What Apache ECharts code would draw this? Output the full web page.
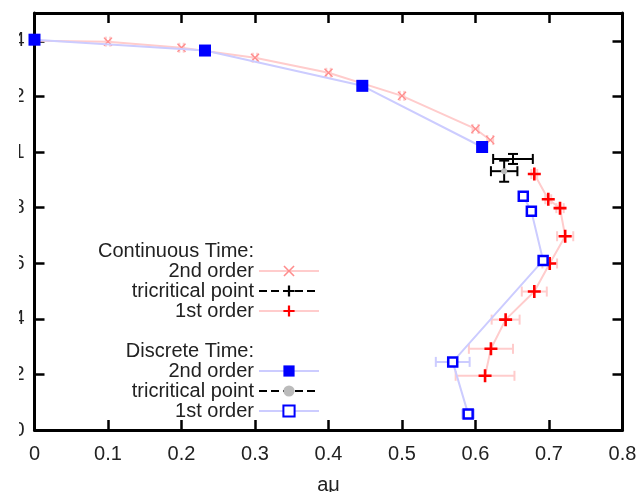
<!DOCTYPE html>
<html>
<head>
<meta charset="utf-8">
<script src="https://cdn.jsdelivr.net/npm/echarts@6/dist/echarts.min.js"></script>
<style>
html, body { margin: 0; padding: 0; background: #fff; overflow: hidden; }
#chart { position: absolute; left: 19px; top: 0; width: 618px; height: 492px; }
</style>
</head>
<body>
<div id="chart"></div>
<script>
var xTicks = [0, 0.1, 0.2, 0.3, 0.4, 0.5, 0.6, 0.7, 0.8];
var yTicks = [0, 0.2, 0.4, 0.6, 0.8, 1, 1.2, 1.4];

// continuous time
var cont2ndX = [0, 0.1, 0.2, 0.3, 0.4, 0.5, 0.6, 0.62];
var cont2ndY = [1.40, 1.397, 1.375, 1.339, 1.285, 1.202, 1.083, 1.043];
var cont2ndXErr = [0, 0.003, 0.003, 0.003, 0.003, 0.003, 0.004, 0.004];
var contTriX = [0.651];
var contTriY = [0.975];
var contTriXErr = [0.027];
var contTriYErr = [0.018];
var cont1stX = [0.680, 0.699, 0.715, 0.722, 0.701, 0.680, 0.641, 0.621, 0.613];
var cont1stY = [0.921, 0.830, 0.798, 0.697, 0.599, 0.498, 0.397, 0.292, 0.195];
var cont1stXErr = [0.004, 0.004, 0.005, 0.011, 0.010, 0.017, 0.019, 0.030, 0.040];

// discrete time
var disc2ndX = [0, 0.232, 0.446, 0.609];
var disc2ndY = [1.404, 1.365, 1.238, 1.018];
var discTriX = [0.639];
var discTriY = [0.931];
var discTriXErr = [0.018];
var discTriYErr = [0.038];
var disc1stX = [0.665, 0.676, 0.692, 0.569, 0.590];
var disc1stY = [0.841, 0.787, 0.610, 0.245, 0.058];
var disc1stXErr = [0.003, 0.003, 0.005, 0.023, 0.008];

var FONT = 'Liberation Sans, Arial, sans-serif';
var crossPath = 'path://M1,0 L5,4 L9,0 L10,1 L6,5 L10,9 L9,10 L5,6 L1,10 L0,9 L4,5 L0,1 Z';
var plusPath = 'path://M4,0 H6 V4 H10 V6 H6 V10 H4 V6 H0 V4 H4 Z';

function pts(xs, ys) {
    return xs.map(function (x, i) { return [x, ys[i]]; });
}
function errPts(xs, ys, xe, ye) {
    return xs.map(function (x, i) {
        return [x, ys[i], xe ? xe[i] : 0, ye ? ye[i] : 0];
    });
}
function errorBars(color) {
    return function (params, api) {
        var x = api.value(0), y = api.value(1), dx = api.value(2), dy = api.value(3);
        var cap = 5;
        var style = { stroke: color, lineWidth: 2 };
        var kids = [];
        if (dx > 0) {
            var l = api.coord([x - dx, y]), r = api.coord([x + dx, y]);
            kids.push({ type: 'line', shape: { x1: l[0], y1: l[1], x2: r[0], y2: r[1] }, style: style });
            kids.push({ type: 'line', shape: { x1: l[0], y1: l[1] - cap, x2: l[0], y2: l[1] + cap }, style: style });
            kids.push({ type: 'line', shape: { x1: r[0], y1: r[1] - cap, x2: r[0], y2: r[1] + cap }, style: style });
        }
        if (dy > 0) {
            var b = api.coord([x, y - dy]), t = api.coord([x, y + dy]);
            kids.push({ type: 'line', shape: { x1: b[0], y1: b[1], x2: t[0], y2: t[1] }, style: style });
            kids.push({ type: 'line', shape: { x1: b[0] - cap, y1: b[1], x2: b[0] + cap, y2: b[1] }, style: style });
            kids.push({ type: 'line', shape: { x1: t[0] - cap, y1: t[1], x2: t[0] + cap, y2: t[1] }, style: style });
        }
        return { type: 'group', children: kids };
    };
}
function errSeries(data, color) {
    return {
        type: 'custom', renderItem: errorBars(color), data: data,
        encode: { x: 0, y: 1 }, silent: true, z: 1
    };
}

var legendText = { fontSize: 20, fontFamily: FONT, color: '#222' };
var legendBase = {
    orient: 'vertical', align: 'right', right: 317, padding: 0, itemGap: 0,
    itemWidth: 60, itemHeight: 14, selectedMode: false, textStyle: legendText,
    formatter: function (name) {
        var i = name.indexOf(': ');
        return i >= 0 ? name.slice(i + 2) : name;
    }
};

var chart = echarts.init(document.getElementById('chart'));
var frame = { show: true, onZero: false, lineStyle: { color: '#000', width: 3 } };
var ticks = { show: true, inside: true, length: 10, lineStyle: { color: '#000', width: 2.5 } };

option = {
    animation: false,
    grid: {
        left: 15.5, right: 14.5, top: 13, bottom: 62,
        containLabel: false, outerBoundsMode: 'none'
    },
    legend: [
        Object.assign({}, legendBase, {
            top: 241,
            data: [
                { name: 'Continuous Time:', icon: 'none' },
                'Continuous Time: 2nd order',
                'Continuous Time: tricritical point',
                'Continuous Time: 1st order'
            ]
        }),
        Object.assign({}, legendBase, {
            top: 341,
            data: [
                { name: 'Discrete Time:', icon: 'none' },
                'Discrete Time: 2nd order',
                'Discrete Time: tricritical point',
                'Discrete Time: 1st order'
            ]
        })
    ],
    xAxis: [
        {
            type: 'value', min: 0, max: 0.8, position: 'bottom',
            name: 'aμ', nameLocation: 'middle', nameGap: 45,
            nameTextStyle: { fontSize: 20, fontFamily: FONT, color: '#222' },
            axisLine: frame,
            axisTick: Object.assign({ customValues: xTicks }, ticks),
            axisLabel: { customValues: xTicks, margin: 14, fontSize: 20, fontFamily: FONT, color: '#222' },
            splitLine: { show: false }
        },
        {
            type: 'value', min: 0, max: 0.8, position: 'top',
            axisLine: frame,
            axisTick: Object.assign({ customValues: xTicks }, ticks),
            axisLabel: { show: false },
            splitLine: { show: false }
        }
    ],
    yAxis: [
        {
            type: 'value', min: 0, max: 1.5, position: 'left',
            name: 'aT', nameLocation: 'middle', nameGap: 40,
            nameTextStyle: { fontSize: 20, fontFamily: FONT, color: '#222' },
            axisLine: frame,
            axisTick: Object.assign({ customValues: yTicks }, ticks),
            axisLabel: { customValues: yTicks, margin: 10, fontSize: 20, fontFamily: FONT, color: '#222' },
            splitLine: { show: false }
        },
        {
            type: 'value', min: 0, max: 1.5, position: 'right',
            axisLine: frame,
            axisTick: Object.assign({ customValues: yTicks }, ticks),
            axisLabel: { show: false },
            splitLine: { show: false }
        }
    ],
    series: [
        // legend headings
        { name: 'Continuous Time:', type: 'line', data: [] },
        { name: 'Discrete Time:', type: 'line', data: [] },

        errSeries(errPts(cont2ndX, cont2ndY, cont2ndXErr), '#ffcccc'),
        errSeries(errPts(cont1stX, cont1stY, cont1stXErr), '#ffcccc'),
        errSeries(errPts(disc1stX, disc1stY, disc1stXErr), '#ccccff'),
        errSeries(errPts(contTriX, contTriY, contTriXErr, contTriYErr), '#000'),
        errSeries(errPts(discTriX, discTriY, discTriXErr, discTriYErr), '#000'),

        {
            name: 'Continuous Time: 2nd order', type: 'line', data: pts(cont2ndX, cont2ndY),
            symbol: crossPath, symbolSize: 9, z: 3,
            itemStyle: { color: '#ff8c8c' },
            lineStyle: { color: '#ffcccc', width: 2 }
        },
        {
            name: 'Continuous Time: tricritical point', type: 'line', data: pts(contTriX, contTriY),
            symbol: plusPath, symbolSize: 9, z: 3,
            itemStyle: { color: '#000' },
            lineStyle: { color: '#000', width: 2, type: 'dashed' }
        },
        {
            name: 'Continuous Time: 1st order', type: 'line', data: pts(cont1stX, cont1stY),
            symbol: plusPath, symbolSize: 13, z: 3,
            itemStyle: { color: '#ff0000' },
            lineStyle: { color: '#ffcccc', width: 2 }
        },
        {
            name: 'Discrete Time: 2nd order', type: 'line', data: pts(disc2ndX, disc2ndY),
            symbol: 'rect', symbolSize: 12, z: 4,
            itemStyle: { color: '#0000ff' },
            lineStyle: { color: '#ccccff', width: 2 }
        },
        {
            name: 'Discrete Time: tricritical point', type: 'line', data: pts(discTriX, discTriY),
            symbol: 'circle', symbolSize: 6, z: 3,
            itemStyle: { color: '#bbbbbb' },
            lineStyle: { color: '#000', width: 2, type: 'dashed' }
        },
        {
            name: 'Discrete Time: 1st order', type: 'line', data: pts(disc1stX, disc1stY),
            symbol: 'rect', symbolSize: 9, z: 4,
            itemStyle: { color: '#ffffff', borderColor: '#0000ff', borderWidth: 2.5 },
            lineStyle: { color: '#ccccff', width: 2 }
        }
    ]
};
chart.setOption(option);
</script>
</body>
</html>
